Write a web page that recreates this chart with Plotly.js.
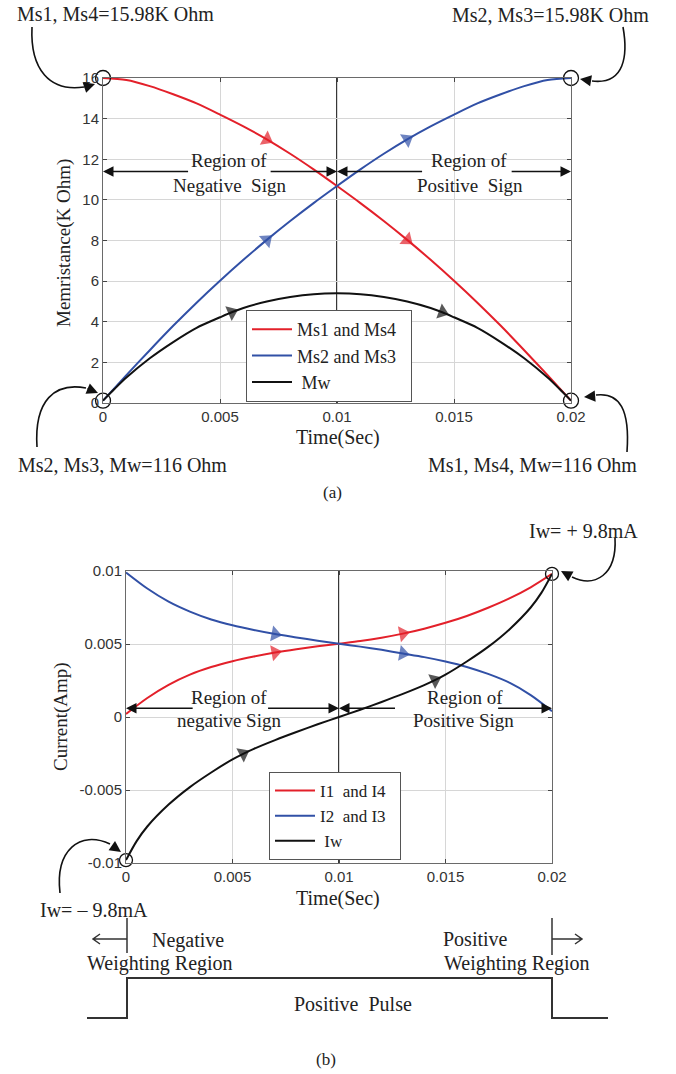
<!DOCTYPE html>
<html><head><meta charset="utf-8">
<script src="https://cdn.plot.ly/plotly-3.0.1.min.js"></script>
<style>html,body{margin:0;padding:0;background:#fff}#c{width:676px;height:1074px}</style>
</head><body><div id="c"></div><script>
// ---------- (a) Memristance ----------
const timeM = [0,0.001,0.002,0.003,0.004,0.005,0.006,0.007,0.008,0.009,0.01,0.011,0.012,0.013,0.014,0.015,0.016,0.017,0.018,0.019,0.02];
const ms1ms4 = [16,15.9,15.6,15.2,14.75,14.2,13.62,12.98,12.27,11.5,10.68,9.84,8.96,8.03,7.05,6.02,4.94,3.8,2.6,1.37,0.116];
const ms2ms3 = [0.116,1.37,2.6,3.8,4.94,6.02,7.05,8.03,8.96,9.84,10.68,11.5,12.27,12.98,13.62,14.2,14.75,15.2,15.6,15.9,16];
const timeMw = [0,0.0005,0.001,0.002,0.003,0.004,0.005,0.0055,0.006,0.007,0.008,0.009,0.01,0.011,0.012,0.013,0.014,0.0145,0.015,0.016,0.017,0.018,0.019,0.0195,0.02];
const mw = [0.116,0.7,1.25,2.2,3.0,3.7,4.22,4.47,4.68,5.0,5.22,5.36,5.4,5.36,5.22,5.0,4.68,4.47,4.22,3.7,3.0,2.2,1.25,0.7,0.116];
const memTicks = [0,2,4,6,8,10,12,14,16];
const timeTicks = [0,0.005,0.01,0.015,0.02];
const timeTickText = ['0','0.005','0.01','0.015','0.02'];
const memEndT = [0,0.02,0,0.02];
const memEndV = [16,16,0.116,0.116];
const arrowTimesM = [0.007,0.013];
const arrowTimesMw = [0.0055,0.0145];

// ---------- (b) Current ----------
const timeI = [0,0.001,0.002,0.003,0.004,0.005,0.006,0.007,0.008,0.009,0.01,0.011,0.012,0.013,0.014,0.015,0.016,0.017,0.018,0.019,0.02];
const i1i4 = [0.0002,0.0013,0.0022,0.0029,0.00342,0.00382,0.00414,0.00441,0.00464,0.00484,0.00502,0.0052,0.00543,0.00571,0.00605,0.00645,0.00692,0.00748,0.00812,0.00888,0.0098];
const i2i3 = [0.0099,0.0088,0.0079,0.00722,0.00668,0.00628,0.00596,0.00568,0.00545,0.00523,0.00502,0.00482,0.0046,0.00435,0.0041,0.0038,0.00343,0.00295,0.00235,0.0015,0.0004];
const timeIw = [0,0.0005,0.001,0.002,0.003,0.004,0.005,0.0055,0.006,0.007,0.008,0.009,0.01,0.011,0.012,0.013,0.014,0.0145,0.015,0.016,0.017,0.018,0.019,0.0195,0.02];
const iw = [-0.0098,-0.0085,-0.0075,-0.006,-0.0048,-0.0038,-0.0029,-0.00252,-0.00218,-0.00158,-0.00103,-0.0005,0,0.0005,0.00103,0.00158,0.00218,0.00252,0.0029,0.0038,0.0048,0.006,0.0075,0.0085,0.0098];
const curTicks = [-0.01,-0.005,0,0.005,0.01];
const curTickText = ['-0.01','-0.005','0','0.005','0.01'];
const curEndT = [0,0.02];
const curEndV = [-0.0098,0.0098];
const arrowTimesI = [0.007,0.013];
const arrowTimesIw = [0.0055,0.0145];

// ---------- helpers ----------
const W = 676, H = 1074;
const X = p => p / W, Y = p => 1 - p / H;
const RED = '#e3202a', BLUE = '#3150a6', BLK = '#111111';
const SERIF = 'Liberation Serif, Times New Roman, serif';
const SANS = 'Liberation Sans, Arial, sans-serif';

function lineTrace(x, y, name, color, xa, ya, leg) {
  return {type:'scatter', mode:'lines', x, y, name, legend:leg, xaxis:xa, yaxis:ya,
    line:{color, width:2, shape:'spline', smoothing:0.8}, cliponaxis:false, hoverinfo:'skip'};
}
function arrowTrace(x, y, color, xa, ya, at) {
  return {type:'scatter', mode:'markers', x, y, showlegend:false, xaxis:xa, yaxis:ya,
    marker:{symbol:'triangle-up', angleref:'previous', color, size:x.map(t => at.includes(t) ? 14 : 0), line:{width:0}},
    cliponaxis:false, hoverinfo:'skip'};
}
function circTrace(x, y, xa, ya, size) {
  return {type:'scatter', mode:'markers', x, y, showlegend:false, xaxis:xa, yaxis:ya,
    marker:{symbol:'circle-open', size, color:BLK, line:{width:1.3, color:BLK}}, cliponaxis:false, hoverinfo:'skip'};
}

const traces = [
  lineTrace(timeM, ms1ms4, 'Ms1 and Ms4\u00a0\u00a0', RED, 'x', 'y', 'legend'),
  lineTrace(timeM, ms2ms3, 'Ms2 and Ms3\u00a0\u00a0', BLUE, 'x', 'y', 'legend'),
  lineTrace(timeMw, mw, '\u00a0Mw', BLK, 'x', 'y', 'legend'),
  arrowTrace(timeM, ms1ms4, RED, 'x', 'y', arrowTimesM),
  arrowTrace(timeM, ms2ms3, BLUE, 'x', 'y', arrowTimesM),
  arrowTrace(timeMw, mw, BLK, 'x', 'y', arrowTimesMw),
  circTrace(memEndT, memEndV, 'x', 'y', 15),
  lineTrace(timeI, i1i4, 'I1  and I4\u00a0\u00a0', RED, 'x2', 'y2', 'legend2'),
  lineTrace(timeI, i2i3, 'I2  and I3\u00a0\u00a0', BLUE, 'x2', 'y2', 'legend2'),
  lineTrace(timeIw, iw, '\u00a0Iw', BLK, 'x2', 'y2', 'legend2'),
  arrowTrace(timeI, i1i4, RED, 'x2', 'y2', arrowTimesI),
  arrowTrace(timeI, i2i3, BLUE, 'x2', 'y2', arrowTimesI),
  arrowTrace(timeIw, iw, BLK, 'x2', 'y2', arrowTimesIw),
  circTrace(curEndT, curEndV, 'x2', 'y2', 13)
];

const axBase = {showgrid:true, gridcolor:'#d6d6d6', gridwidth:1, showline:true, linecolor:'#6a6a6a', linewidth:1,
  mirror:'allticks', ticks:'inside', ticklen:4, tickcolor:'#444', zeroline:false, fixedrange:true,
  tickfont:{family:SANS, size:15, color:'#333'}, tickmode:'array'};

const layout = {
  width:W, height:H, margin:{l:0,r:0,t:0,b:0}, paper_bgcolor:'#fff', plot_bgcolor:'#fff', showlegend:true,
  xaxis: Object.assign({}, axBase, {domain:[X(103), X(571)], range:[0,0.02], tickvals:timeTicks, ticktext:timeTickText, anchor:'y'}),
  yaxis: Object.assign({}, axBase, {domain:[Y(403), Y(78)], range:[0,16], tickvals:memTicks, ticktext:memTicks.map(String), anchor:'x'}),
  xaxis2: Object.assign({}, axBase, {domain:[X(126), X(552)], range:[0,0.02], tickvals:timeTicks, ticktext:timeTickText, anchor:'y2'}),
  yaxis2: Object.assign({}, axBase, {domain:[Y(863), Y(571)], range:[-0.01,0.01], tickvals:curTicks, ticktext:curTickText, anchor:'x2'}),
  legend: {x:X(246), y:Y(310), xanchor:'left', yanchor:'top', bgcolor:'#fff', bordercolor:'#555', borderwidth:1,
    font:{family:SERIF, size:18, color:'#222'}, tracegroupgap:0, itemwidth:40},
  legend2: {x:X(269), y:Y(772), xanchor:'left', yanchor:'top', bgcolor:'#fff', bordercolor:'#555', borderwidth:1,
    font:{family:SERIF, size:17, color:'#222'}, tracegroupgap:0, itemwidth:40},
  shapes: [], annotations: []
};

const S = layout.shapes, A = layout.annotations;
// centre vertical lines
S.push({type:'line', xref:'x', yref:'y domain', x0:0.01, x1:0.01, y0:0, y1:1, line:{color:'#222', width:1.8}, layer:'below'});
S.push({type:'line', xref:'x2', yref:'y2 domain', x0:0.01, x1:0.01, y0:0, y1:1, line:{color:'#222', width:1.8}, layer:'below'});

function pth(pts) {
  return pts.map(p => p[0] + ' ' + p.slice(1).reduce((s, v, i) => s + (i % 2 === 0 ? X(v) : Y(v)) + (i % 2 === 0 ? ',' : ' '), '')).join(' ');
}
function curve(x0,y0,c1x,c1y,c2x,c2y,x1,y1, tipx, tipy, tx, ty) {
  S.push({type:'path', xref:'paper', yref:'paper', path:pth([['M',x0,y0],['C',c1x,c1y,c2x,c2y,x1,y1]]), line:{color:'#111', width:1.6}});
  A.push({xref:'paper', yref:'paper', x:X(tipx), y:Y(tipy), ax:tx, ay:ty, text:'', showarrow:true, arrowhead:2, arrowsize:1.4, arrowwidth:1.6, arrowcolor:'#111', standoff:0});
}
curve(32,27, 30,70, 50,92, 84,87, 95,84, -12,4);
curve(623,27, 628,55, 625,85, 592,81, 580,79, 12,2);
curve(37,447, 34,400, 55,382, 86,388, 98,393, -12,-5);
curve(627,452, 630,410, 620,392, 596,395, 584,397, 12,-1);
curve(615,538, 617,575, 595,588, 572,577, 561,571, 11,6);
curve(60,893, 55,850, 80,830, 110,844, 121,852, -10,-7);

function txt(s, x, y, size, extra) {
  A.push(Object.assign({xref:'paper', yref:'paper', x:X(x), y:Y(y), text:s, showarrow:false, xanchor:'center', yanchor:'middle',
    font:{family:SERIF, size:size||20, color:'#222'}}, extra||{}));
}
txt('Ms1, Ms4=15.98K Ohm', 115, 14);
txt('Ms2, Ms3=15.98K Ohm', 550, 15);
txt('Ms2, Ms3, Mw=116 Ohm', 122, 465);
txt('Ms1, Ms4, Mw=116 Ohm', 532, 465);
txt('Time(Sec)', 338, 437);
txt('Memristance(K Ohm)', 64, 243, 19, {textangle:-90});
txt('(a)', 332, 492, 17);
txt('Iw= + 9.8mA', 583, 531);
txt('Iw= \u2013 9.8mA', 94, 910);
txt('Time(Sec)', 338, 898);
txt('Current(Amp)', 61, 717, 19, {textangle:-90});
txt('Negative', 188, 940);
txt('Weighting Region', 160, 963);
txt('Positive', 475, 939);
txt('Weighting Region', 517, 963);
txt('Positive  Pulse', 353, 1004);
txt('(b)', 326, 1059, 17);

// region arrows
function region(xa, ya, yv, tips, tails) {
  for (let k = 0; k < 2; k++) {
    A.push({xref:xa, yref:ya, axref:xa, ayref:ya, x:tips[k], y:yv, ax:tails[k], ay:yv, text:'', showarrow:true,
      arrowhead:2, arrowsize:1.5, arrowwidth:1.4, arrowcolor:'#111', standoff:0});
  }
}
region('x','y', 11.4, [0, 0.01], [0.0037, 0.0071]);
region('x','y', 11.4, [0.01, 0.02], [0.0137, 0.0174]);
region('x2','y2', 0.0006, [0, 0.01], [0.0032, 0.0066]);
region('x2','y2', 0.0006, [0.01, 0.02], [0.0127, 0.0174]);
txt('Region of', 229, 160, 19);
txt('Negative  Sign', 229, 185, 19);
txt('Region of', 469, 160, 19);
txt('Positive  Sign', 470, 185, 19);
txt('Region of', 229, 697, 19);
txt('negative Sign', 229, 720, 19);
txt('Region of', 465, 697, 19);
txt('Positive Sign', 464, 720, 19);

// pulse & region markers
S.push({type:'path', xref:'paper', yref:'paper', path:pth([['M',87,1018],['L',127,1018],['L',127,978],['L',552,978],['L',552,1018],['L',608,1018]]), line:{color:'#333', width:2}});
S.push({type:'path', xref:'paper', yref:'paper', path:pth([['M',127,918],['L',127,953],['M',127,939],['L',93,939],['M',100,934],['L',93,939],['L',100,944]]), line:{color:'#333', width:1.5}});
S.push({type:'path', xref:'paper', yref:'paper', path:pth([['M',552,918],['L',552,955],['M',552,939],['L',582,939],['M',575,934],['L',582,939],['L',575,944]]), line:{color:'#333', width:1.5}});

Plotly.newPlot('c', traces, layout, {staticPlot:true, displayModeBar:false});
</script></body></html>
